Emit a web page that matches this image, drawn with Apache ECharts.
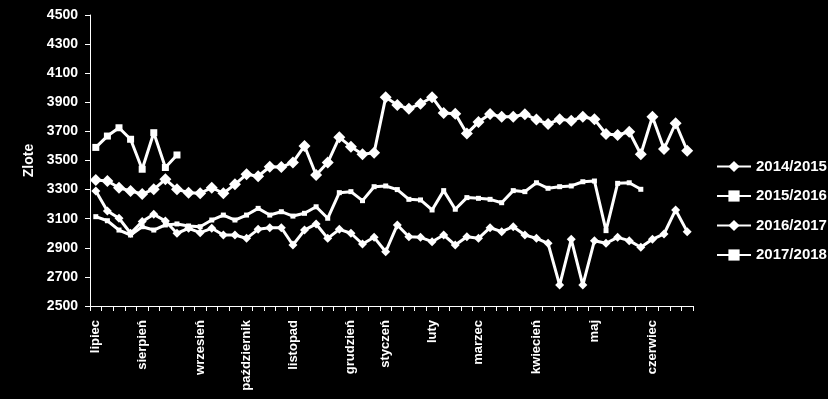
<!DOCTYPE html>
<html>
<head>
<meta charset="utf-8">
<script src="https://cdn.jsdelivr.net/npm/echarts@6/dist/echarts.min.js"></script>
<style>
html,body{margin:0;padding:0;background:#000;}
#chart{width:828px;height:399px;}
</style>
</head>
<body>
<div id="chart"></div>
<script>
// Week index (0..51) and month names shown at given weeks
const weekCount = 52;
const monthNames = ['lipiec','sierpień','wrzesień','październik','listopad','grudzień','styczeń','luty','marzec','kwiecień','maj','czerwiec'];
const monthWeeks = [0, 4, 9, 13, 17, 22, 25, 29, 33, 38, 43, 48];

const seriesNames = ['2014/2015','2015/2016','2016/2017','2017/2018'];

const s2014 = [3290,3153,3103,3000,3080,3130,3084,3000,3034,3004,
               3034,2988,2988,2965,3027,3038,3038,2919,3022,3064,
               2965,3027,3000,2926,2972,2873,3057,2976,2972,2942,
               2988,2919,2976,2965,3038,3011,3045,2988,2965,2931,
               2644,2958,2644,2949,2931,2972,2949,2904,2958,2995,
               3160,3011];
const s2015 = [3114,3086,3022,2988,3045,3022,3057,3064,3050,3045,
               3091,3125,3091,3125,3171,3125,3148,3118,3137,3182,
               3103,3279,3286,3224,3320,3325,3300,3233,3229,3160,
               3293,3165,3245,3240,3233,3210,3293,3286,3347,3309,
               3320,3325,3354,3359,3018,3343,3347,3302];
const s2016 = [3366,3359,3313,3290,3270,3302,3371,3302,3279,3275,
               3313,3275,3336,3405,3392,3457,3455,3487,3600,3400,
               3486,3659,3595,3543,3554,3934,3881,3856,3890,3935,
               3827,3821,3685,3764,3820,3800,3801,3818,3781,3751,
               3783,3774,3801,3783,3682,3675,3698,3543,3801,3579,
               3756,3567];
const s2017 = [3590,3668,3725,3646,3440,3691,3452,3538];

const yMin = 2500, yMax = 4500, yStep = 200;
const yTitle = 'Zlote';

const categories = [];
for (let i = 0; i < weekCount; i++) {
  const k = monthWeeks.indexOf(i);
  categories.push(k >= 0 ? monthNames[k] : '');
}

const FONT = '"Liberation Sans", Arial, sans-serif';
const chart = echarts.init(document.getElementById('chart'), null, {renderer:'canvas'});

function mkSeries(name, data, symbol, size) {
  return {
    name: name, type: 'line', data: data,
    symbol: symbol, symbolSize: size, showSymbol: true,
    lineStyle: {color:'#fff', width:3},
    itemStyle: {color:'#fff', borderColor:'#fff', borderWidth:0},
    animation: false
  };
}

chart.setOption({
  backgroundColor: '#000',
  animation: false,
  grid: {left: 90, right: 135, top: 15, bottom: 93},
  legend: {
    orient: 'vertical', left: 711, top: 154,
    itemWidth: 34, itemHeight: 14, itemGap: 14.5,
    textStyle: {color:'#fff', fontFamily: FONT, fontWeight:'bold', fontSize:15},
    data: seriesNames
  },
  xAxis: {
    type: 'category', data: categories, boundaryGap: true,
    axisLine: {lineStyle: {color:'#fff', width:1}},
    axisTick: {show:true, interval:0, length:5, lineStyle:{color:'#fff'}},
    axisLabel: {interval:0, rotate:90, color:'#fff', fontFamily: FONT, fontWeight:'bold', fontSize:13, margin:14},
    splitLine: {show:false}
  },
  yAxis: {
    type: 'value', min: yMin, max: yMax, interval: yStep,
    name: yTitle, nameLocation: 'middle', nameRotate: 90, nameGap: 52,
    nameTextStyle: {color:'#fff', fontFamily: FONT, fontWeight:'bold', fontSize:14},
    axisLine: {show:true, lineStyle: {color:'#fff', width:1}},
    axisTick: {show:true, length:5, lineStyle:{color:'#fff'}},
    axisLabel: {color:'#fff', fontFamily: FONT, fontWeight:'bold', fontSize:14, margin:12,
                formatter: function (v) { return String(v); }},
    splitLine: {show:false}
  },
  series: [
    mkSeries(seriesNames[0], s2014, 'diamond', 9),
    mkSeries(seriesNames[1], s2015, 'rect', 5),
    mkSeries(seriesNames[2], s2016, 'diamond', 12),
    mkSeries(seriesNames[3], s2017, 'rect', 7)
  ]
});
</script>
</body>
</html>
